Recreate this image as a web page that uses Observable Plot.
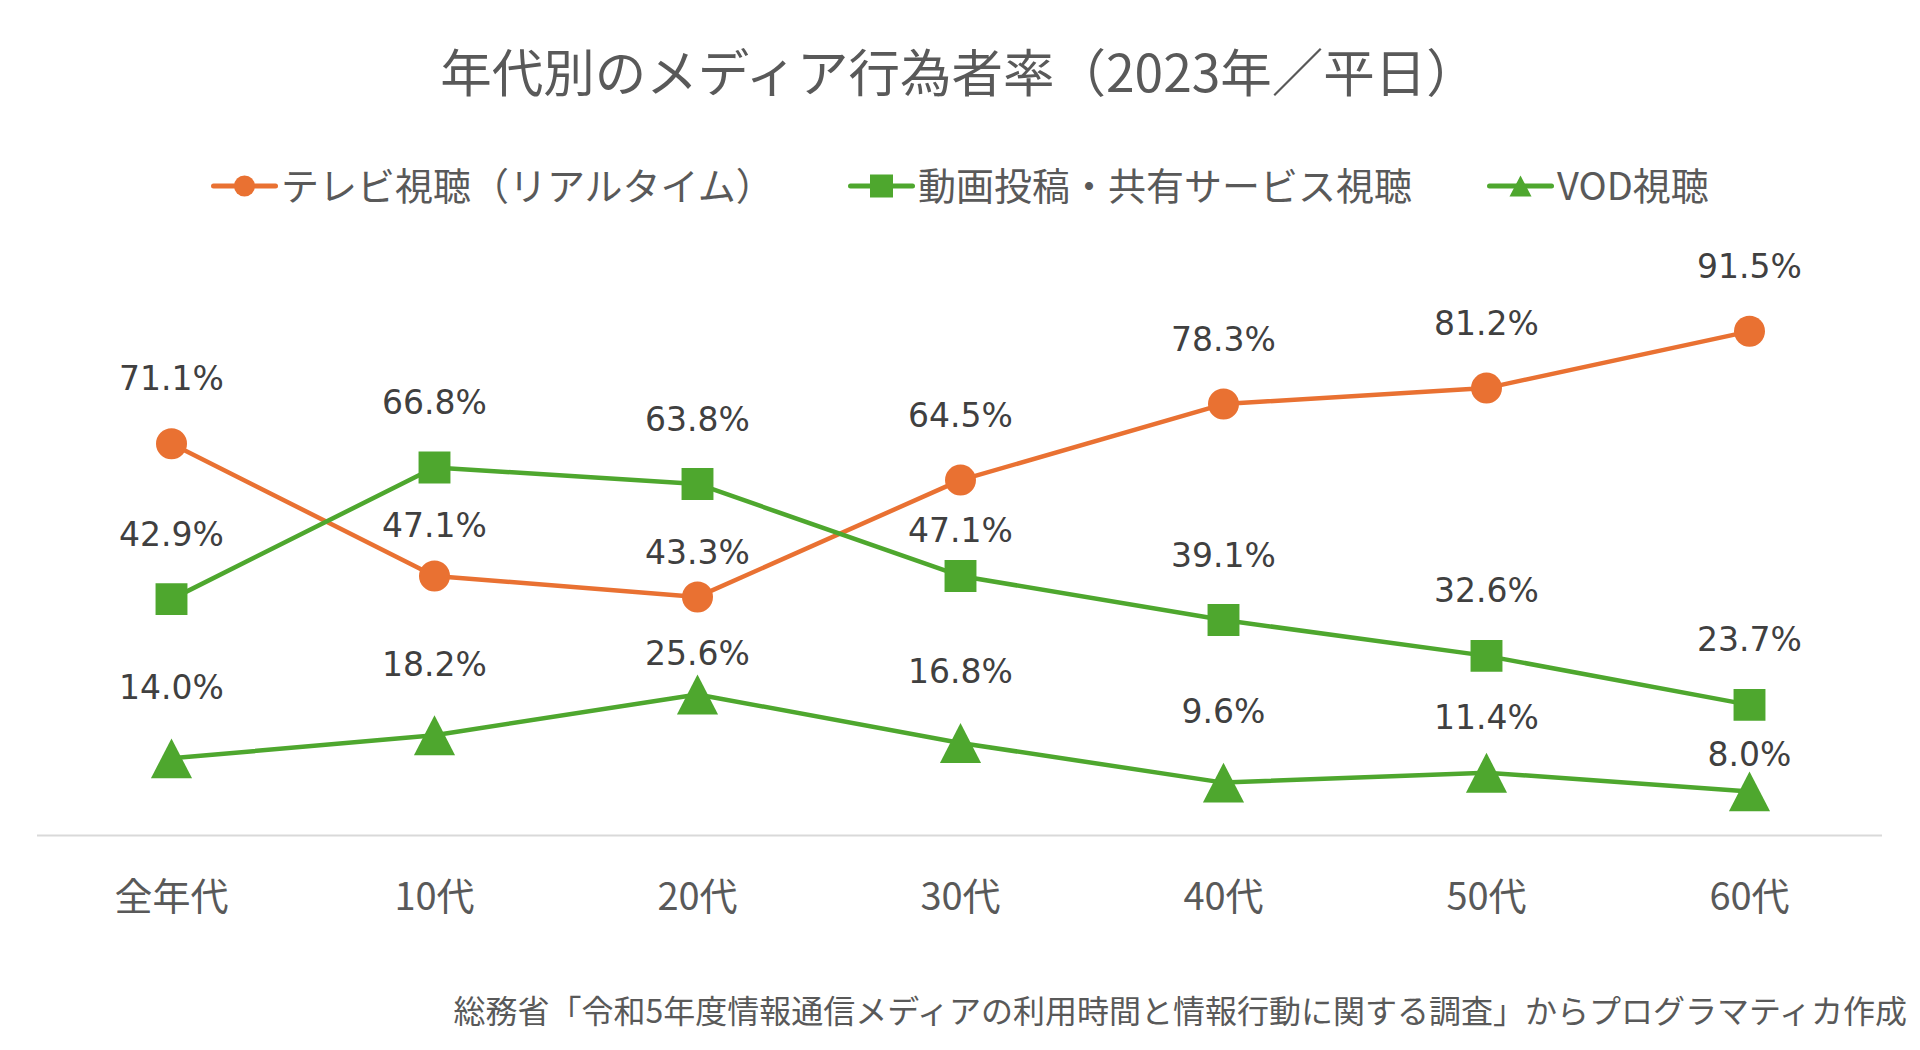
<!DOCTYPE html>
<html>
<head>
<meta charset="utf-8">
<script src="https://cdn.jsdelivr.net/npm/d3@7"></script>
<script src="https://cdn.jsdelivr.net/npm/@observablehq/plot@0.6"></script>
<style>
  html, body { margin: 0; padding: 0; background: #ffffff; }
  #page { position: relative; width: 1920px; height: 1050px; overflow: hidden; background: #fff; }
  .cjk { font-family: "Noto Sans CJK JP", "Noto Sans", sans-serif; color: #595959; }
  #title { position: absolute; left: 0; width: 1918px; top: 44px; text-align: center; font-size: 51.5px; line-height: 52px; white-space: nowrap; }
  #legend .item { position: absolute; top: 160px; height: 48px; display: flex; align-items: center; white-space: nowrap; }
  #legend .item span { font-size: 38px; line-height: 48px; margin-left: 3px; }
  #caption { position: absolute; right: 13px; top: 991px; font-size: 32px; line-height: 36px; white-space: nowrap; }
  #chart { position: absolute; left: 0; top: 230px; }
</style>
</head>
<body>
<div id="page">
  <div id="title" class="cjk">年代別のメディア行為者率（2023年／平日）</div>
  <div id="legend" class="cjk"></div>
  <div id="chart"></div>
  <div id="caption" class="cjk">総務省「令和5年度情報通信メディアの利用時間と情報行動に関する調査」からプログラマティカ作成</div>
</div>
<script>
// ---- data ----
const categories = ["全年代", "10代", "20代", "30代", "40代", "50代", "60代"];
const tvRealtime = [71.1, 47.1, 43.3, 64.5, 78.3, 81.2, 91.5];
const videoSharing = [42.9, 66.8, 63.8, 47.1, 39.1, 32.6, 23.7];
const vodViewing = [14.0, 18.2, 25.6, 16.8, 9.6, 11.4, 8.0];
const seriesNames = ["テレビ視聴（リアルタイム）", "動画投稿・共有サービス視聴", "VOD視聴"];

// ---- styles ----
const ORANGE = "#E97132";
const GREEN = "#4EA72E";
const triangleSymbol = {
  draw(context, size) {
    const r = Math.sqrt(size / Math.PI);
    const hw = r * 1.37, hh = r * 1.33;
    context.moveTo(0, -hh);
    context.lineTo(hw, hh);
    context.lineTo(-hw, hh);
    context.closePath();
  }
};
const seriesStyle = [
  {key: "tv", color: ORANGE, symbol: "circle", r: 15.5, labelGap: 64},
  {key: "video", color: GREEN, symbol: "square", r: 18, labelGap: 64},
  {key: "vod", color: GREEN, symbol: triangleSymbol, r: 15, labelGap: 70}
];
// label nudges (distance above the point, px) for crowded spots
const labelGapOverride = {
  "tv|10代": 50, "tv|20代": 43, "video|30代": 45,
  "vod|20代": 40, "vod|50代": 54, "vod|60代": 36
};

const valuesBySeries = [tvRealtime, videoSharing, vodViewing];
const rows = [];
valuesBySeries.forEach((vals, si) => {
  vals.forEach((v, i) => rows.push({series: si, key: seriesStyle[si].key, category: categories[i], value: v}));
});

const fmt = v => d3.format(".1f")(v) + "%";
const labelFont = "DejaVu Sans, Verdana, sans-serif";

const marks = [Plot.ruleY([0], {stroke: "#D9D9D9", strokeWidth: 2})];
seriesStyle.forEach((s, si) => {
  const d = rows.filter(r => r.series === si);
  marks.push(Plot.line(d, {x: "category", y: "value", stroke: s.color, strokeWidth: 4.5, strokeLinejoin: "round"}));
  marks.push(Plot.dot(d, {x: "category", y: "value", fill: s.color, stroke: "none", r: s.r, symbol: s.symbol}));
});
// labels grouped by gap
const gapOf = r => labelGapOverride[r.key + "|" + r.category] ?? seriesStyle[r.series].labelGap;
const gaps = Array.from(new Set(rows.map(gapOf)));
gaps.forEach(g => {
  marks.push(Plot.text(rows.filter(r => gapOf(r) === g), {
    x: "category", y: "value", text: d => fmt(d.value), dy: -g,
    fill: "#404040", fontSize: 33, fontFamily: labelFont, lineAnchor: "middle"
  }));
});
marks.push(Plot.axisX({tickSize: 0, tickPadding: 48, fontSize: 38, fill: "#595959", fontFamily: "Noto Sans CJK JP"}));

const chart = Plot.plot({
  width: 1920,
  height: 730,
  marginTop: 54,
  marginBottom: 125,
  marginLeft: 37,
  marginRight: 38,
  x: {type: "point", domain: categories, padding: 0.5, label: null},
  y: {domain: [0, 100], axis: null},
  style: {background: "transparent", overflow: "visible", fontFamily: "Noto Sans CJK JP"},
  marks
});
document.getElementById("chart").append(chart);

// ---- legend ----
const legendLeft = [211, 848, 1487];
const legend = d3.select("#legend");
seriesStyle.forEach((s, si) => {
  const item = legend.append("div").attr("class", "item").style("left", legendLeft[si] + "px");
  const svg = item.append("svg").attr("width", 67).attr("height", 48);
  const cx = 33.5, cy = 26;
  svg.append("line").attr("x1", 2.5).attr("x2", 64.5).attr("y1", cy).attr("y2", cy)
    .attr("stroke", s.color).attr("stroke-width", 5).attr("stroke-linecap", "round");
  if (s.symbol === "circle") {
    svg.append("circle").attr("cx", cx).attr("cy", cy).attr("r", 10.5).attr("fill", s.color);
  } else if (s.symbol === "square") {
    svg.append("rect").attr("x", cx - 11.5).attr("y", cy - 11.5).attr("width", 23).attr("height", 23).attr("fill", s.color);
  } else {
    svg.append("path").attr("d", `M${cx},${cy - 10.5}L${cx + 11},${cy + 10.5}L${cx - 11},${cy + 10.5}Z`).attr("fill", s.color);
  }
  item.append("span").text(seriesNames[si]);
});
</script>
</body>
</html>
